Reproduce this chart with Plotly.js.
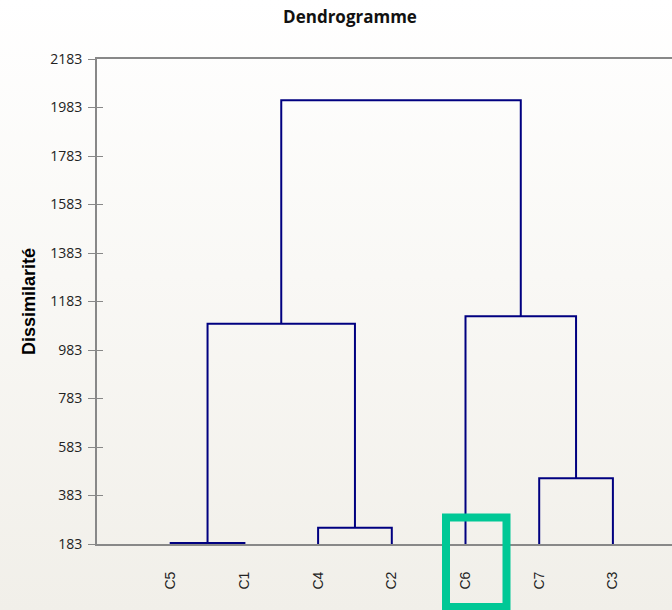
<!DOCTYPE html>
<html>
<head>
<meta charset="utf-8">
<script src="https://cdn.plot.ly/plotly-3.0.1.min.js"></script>
<style>
html, body { margin:0; padding:0; overflow:hidden; }
body { width:672px; height:610px; background: linear-gradient(to bottom, #ffffff 0%, #f9f8f5 45%, #f1efe9 100%); }
#chart { width:672px; height:610px; }
</style>
</head>
<body>
<div id="chart"></div>
<script>
// Leaves in dendrogram order
const leafLabels = ['C5', 'C1', 'C4', 'C2', 'C6', 'C7', 'C3'];
// Linkage: clusters 0-6 are leaves (in order above), 7+ are merges
const mergeA = [0, 2, 5, 7, 4, 10];
const mergeB = [1, 3, 6, 8, 9, 11];
const mergeHeight = [187, 250, 454, 1091, 1122, 2013];
const yTicks = [183, 383, 583, 783, 983, 1183, 1383, 1583, 1783, 1983, 2183];
const baseLevel = 183;

const nodeX = leafLabels.map((_, i) => i + 1);
const nodeH = leafLabels.map(() => baseLevel);
const lx = [], ly = [];
for (let k = 0; k < mergeA.length; k++) {
  const a = mergeA[k], b = mergeB[k], h = mergeHeight[k];
  lx.push(nodeX[a], nodeX[a], nodeX[b], nodeX[b], null);
  ly.push(nodeH[a], h, h, nodeH[b], null);
  nodeX.push((nodeX[a] + nodeX[b]) / 2);
  nodeH.push(h);
}

const L = 97, T = 59, W = 575, H = 485;
const px = v => (v - L) / W;
const py = v => (T + H - v) / H;

const data = [{
  x: lx, y: ly, type: 'scatter', mode: 'lines',
  line: {color: '#000080', width: 2},
  hoverinfo: 'skip', showlegend: false
}, {
  x: [null], y: [null], yaxis: 'y2', type: 'scatter', mode: 'lines',
  showlegend: false, hoverinfo: 'skip'
}];

const layout = {
  width: 672, height: 610,
  margin: {l: L, r: 0, t: T, b: 610 - T - H},
  paper_bgcolor: 'rgba(0,0,0,0)',
  plot_bgcolor: 'rgba(0,0,0,0)',
  showlegend: false,
  title: {
    text: 'Dendrogramme',
    font: {family: 'Open Sans', size: 17, color: '#111', weight: 700},
    x: 350 / 672, xref: 'container', xanchor: 'center',
    y: 1 - 17 / 610, yref: 'container', yanchor: 'middle'
  },
  xaxis: {
    range: [0, W / 73.7],
    tickvals: leafLabels.map((_, i) => i + 1),
    ticktext: leafLabels,
    tickangle: -90,
    ticks: '',
    ticklabelstandoff: 20,
    showgrid: false, zeroline: false,
    showline: true, linecolor: '#888888', linewidth: 2, mirror: true,
    tickfont: {family: 'Liberation Sans, Arial', size: 14, color: '#222'},
    fixedrange: true
  },
  yaxis: {
    range: [183, 2183],
    tickvals: yTicks,
    ticktext: yTicks.map(String),
    ticks: 'outside', ticklen: 7, tickwidth: 1, tickcolor: '#888888',
    ticklabelstandoff: 3,
    showgrid: false, zeroline: false,
    showline: true, linecolor: '#888888', linewidth: 2,
    tickfont: {family: 'Open Sans', size: 14, color: '#222'},
    title: {text: 'Dissimilarité', standoff: 10,
            font: {family: 'Liberation Sans, Arial', size: 18, color: '#000', weight: 700}},
    fixedrange: true
  },
  yaxis2: {
    overlaying: 'y', range: [183, 2183], tickvals: yTicks,
    ticks: 'inside', ticklen: 6, tickwidth: 1, tickcolor: '#888888',
    showticklabels: false, showgrid: false, zeroline: false, showline: false,
    fixedrange: true
  },
  shapes: [{
    type: 'rect', xref: 'paper', yref: 'paper',
    x0: px(446), x1: px(506.5), y0: py(517.5), y1: py(607),
    line: {color: '#00c896', width: 8}, fillcolor: 'rgba(0,0,0,0)'
  }]
};

Plotly.newPlot('chart', data, layout, {displayModeBar: false, staticPlot: true});
</script>
</body>
</html>
